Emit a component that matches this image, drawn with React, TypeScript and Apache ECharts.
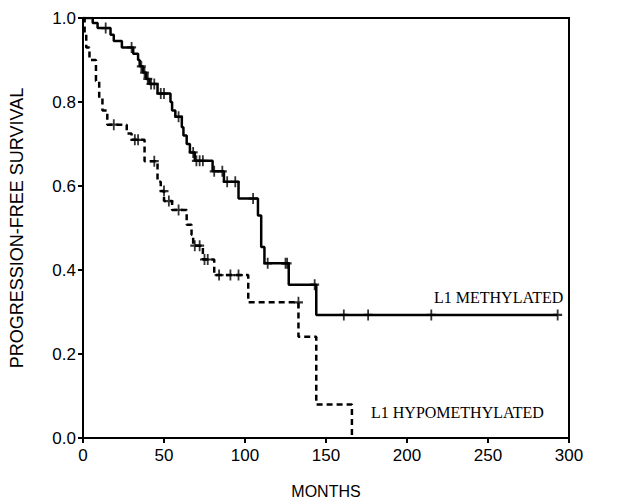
import React, { useEffect, useRef } from "react";
import * as echarts from "echarts";

// Kaplan-Meier steps: time (months) and survival after the step
const methylatedTimes = [0, 6, 9, 17, 19, 24, 31, 34, 35, 37, 39, 41, 46, 54, 55, 57, 61, 62, 64, 66, 69, 80, 87, 96, 108, 110, 112, 127, 144, 293];
const methylatedSurvival = [1.0, 0.988, 0.976, 0.96, 0.945, 0.93, 0.915, 0.9, 0.885, 0.87, 0.855, 0.843, 0.82, 0.8, 0.78, 0.765, 0.74, 0.72, 0.7, 0.68, 0.66, 0.635, 0.61, 0.57, 0.53, 0.455, 0.416, 0.365, 0.293, 0.293];
const methylatedCensored = [14, 30, 36, 38, 40, 42, 44, 48, 50, 59, 68, 70, 72, 74, 81, 86, 89, 94, 105, 114, 125, 126, 143, 161, 176, 215, 293];

const hypoTimes = [0, 1, 2, 4, 8, 10, 12, 15, 27, 30, 38, 46, 48, 50, 55, 64, 67, 68, 74, 81, 102, 133, 144, 166];
const hypoSurvival = [1.0, 0.965, 0.93, 0.9, 0.85, 0.81, 0.78, 0.746, 0.725, 0.71, 0.659, 0.61, 0.588, 0.564, 0.543, 0.508, 0.484, 0.458, 0.425, 0.388, 0.323, 0.241, 0.08, 0.0];
const hypoCensored = [19, 32, 34, 44, 50, 53, 59, 69, 72, 75, 77, 84, 91, 96, 133];

const xTicks = [0, 50, 100, 150, 200, 250, 300];
const yTicks = [0, 0.2, 0.4, 0.6, 0.8, 1.0];

const seriesLabels = ["L1 METHYLATED", "L1 HYPOMETHYLATED"];

function survivalAt(times: number[], values: number[], t: number): number {
  let v = values[0];
  for (let i = 1; i < times.length; i++) {
    if (times[i] < t) v = values[i];
  }
  return v;
}

const CENSOR = "path://M4,0L6,0L6,10L4,10Z M0,4L10,4L10,6L0,6Z";

export default function App() {
  const ref = useRef<HTMLDivElement>(null);
  useEffect(() => {
    if (!ref.current) return;
    const chart = echarts.init(ref.current, null, { renderer: "svg" });
    const sans = "Liberation Sans";
    const serif = "Liberation Serif";
    chart.setOption({
      animation: false,
      backgroundColor: "#fff",
      grid: {
        left: 82,
        right: 73,
        top: 18,
        bottom: 62,
        show: true,
        borderColor: "#000",
        borderWidth: 2,
      },
      xAxis: {
        type: "value",
        min: xTicks[0],
        max: xTicks[xTicks.length - 1],
        interval: xTicks[1] - xTicks[0],
        name: "MONTHS",
        nameLocation: "middle",
        nameGap: 45,
        nameTextStyle: { fontFamily: sans, fontSize: 16, color: "#000" },
        axisLine: { lineStyle: { color: "#000", width: 2 } },
        axisTick: { inside: false, length: 5, lineStyle: { color: "#000", width: 2 } },
        axisLabel: { fontFamily: sans, fontSize: 17, color: "#000", margin: 9 },
        splitLine: { show: false },
      },
      yAxis: {
        type: "value",
        min: yTicks[0],
        max: yTicks[yTicks.length - 1],
        interval: 0.2,
        name: "PROGRESSION-FREE SURVIVAL",
        nameLocation: "middle",
        nameGap: 57,
        nameTextStyle: { fontFamily: sans, fontSize: 18, color: "#000" },
        axisLine: { lineStyle: { color: "#000", width: 2 } },
        axisTick: { inside: false, length: 5, lineStyle: { color: "#000", width: 2 } },
        axisLabel: {
          fontFamily: sans,
          fontSize: 17,
          color: "#000",
          margin: 7,
          formatter: (v: number) => v.toFixed(1),
        },
        splitLine: { show: false },
      },
      series: [
        {
          type: "line",
          name: seriesLabels[0],
          step: "end",
          showSymbol: false,
          data: methylatedTimes.map((t, i) => [t, methylatedSurvival[i]]),
          lineStyle: { color: "#000", width: 2.5, type: "solid" },
        },
        {
          type: "line",
          name: seriesLabels[1],
          step: "end",
          showSymbol: false,
          data: hypoTimes.map((t, i) => [t, hypoSurvival[i]]),
          lineStyle: { color: "#000", width: 2.5, type: [6, 4] },
        },
        {
          type: "scatter",
          symbol: CENSOR,
          symbolSize: [9, 11],
          itemStyle: { color: "#000" },
          data: methylatedCensored.map((t) => [t, survivalAt(methylatedTimes, methylatedSurvival, t)]),
        },
        {
          type: "scatter",
          symbol: CENSOR,
          symbolSize: [9, 11],
          itemStyle: { color: "#000" },
          data: hypoCensored.map((t) => [t, survivalAt(hypoTimes, hypoSurvival, t)]),
        },
      ],
      graphic: [
        {
          type: "text",
          left: 434,
          top: 289,
          style: { text: seriesLabels[0], font: `16px "${serif}"`, fill: "#000" },
        },
        {
          type: "text",
          left: 371,
          top: 404,
          style: { text: seriesLabels[1], font: `16px "${serif}"`, fill: "#000" },
        },
      ],
    });
    return () => chart.dispose();
  }, []);
  return (
    <div
      ref={ref}
      style={{ position: "fixed", left: 0, top: 0, width: 642, height: 504, background: "#fff" }}
    />
  );
}
